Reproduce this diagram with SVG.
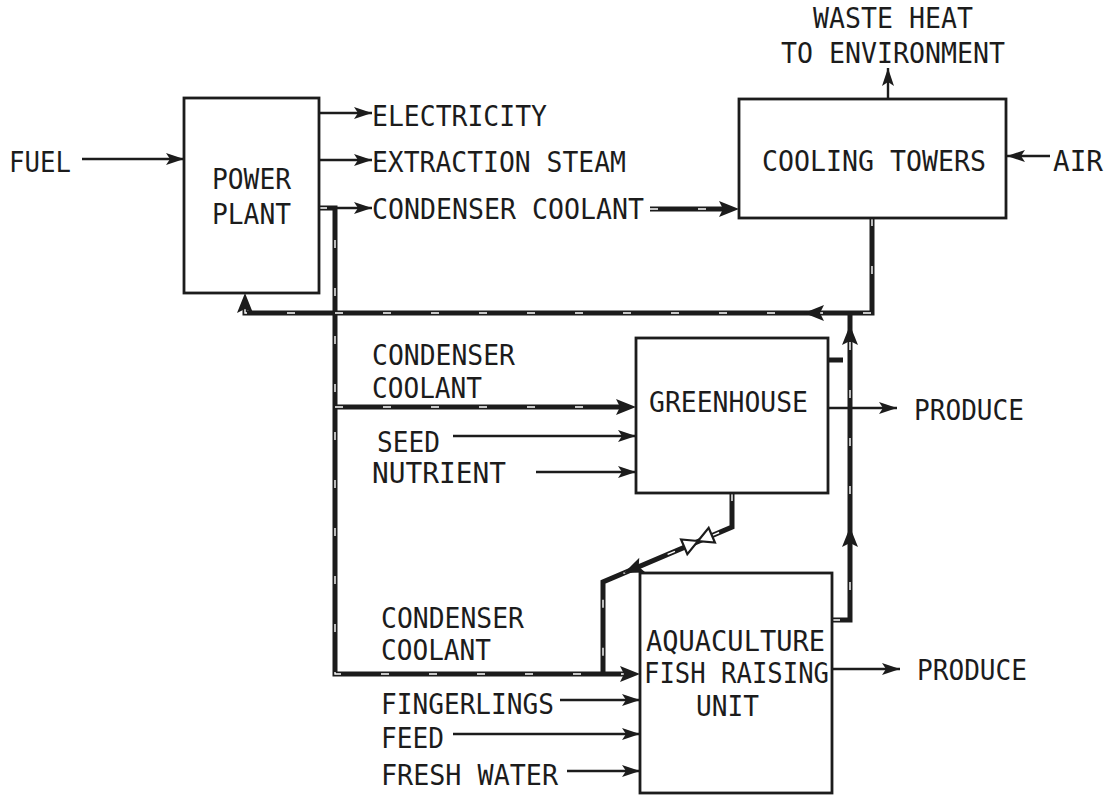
<svg xmlns="http://www.w3.org/2000/svg" width="1116" height="796" viewBox="0 0 1116 796">
<style>
.t{font-family:"DejaVu Sans Mono","Liberation Mono",monospace;font-size:29px;fill:#1c1c1c}
.box{fill:#fff;stroke:#1c1c1c;stroke-width:2.8}
.ln{fill:none;stroke:#1c1c1c;stroke-width:2.4}
.pipe{fill:none;stroke:#1c1c1c;stroke-width:5}
.pin{fill:none;stroke:#fff;stroke-width:1.4;stroke-dasharray:8 40}
.ah{fill:#1c1c1c}
.valve{fill:#fff;stroke:#1c1c1c;stroke-width:2.2}
</style>
<defs>
<marker id="arr" markerUnits="userSpaceOnUse" markerWidth="20" markerHeight="14" refX="18" refY="7" orient="auto">
<path d="M0,1 L18,7 L0,13 L4,7 z" fill="#1c1c1c"/>
</marker>
</defs>
<rect width="1116" height="796" fill="#fff"/>
<g id="connectors">
<path class="ln" d="M82,159 H184" marker-end="url(#arr)"/>
<path class="ln" d="M319,113 H372" marker-end="url(#arr)"/>
<path class="ln" d="M319,160 H372" marker-end="url(#arr)"/>
<path class="ln" d="M335,208 H372" marker-end="url(#arr)"/>
<path class="ln" d="M1050,156 H1007" marker-end="url(#arr)"/>
<path class="ln" d="M888,99 V68" marker-end="url(#arr)"/>
<path class="ln" d="M453,436 H636" marker-end="url(#arr)"/>
<path class="ln" d="M536,472 H636" marker-end="url(#arr)"/>
<path class="ln" d="M828,408 H897" marker-end="url(#arr)"/>
<path class="ln" d="M832,669 H900" marker-end="url(#arr)"/>
<path class="ln" d="M560,700 H640" marker-end="url(#arr)"/>
<path class="ln" d="M453,734 H640" marker-end="url(#arr)"/>
<path class="ln" d="M567,771 H640" marker-end="url(#arr)"/>
<path class="pipe" d="M319,208 H335 V674 H626"/>
<path class="pin" d="M319,208 H335 V674 H626"/>
<path class="pipe" d="M335,407 H624"/>
<path class="pin" d="M335,407 H624"/>
<path class="pipe" d="M650,209 H727"/>
<path class="pin" d="M650,209 H727"/>
<path class="pipe" d="M872,218 V313 H245 V305"/>
<path class="pin" d="M872,218 V313 H245 V305"/>
<path class="pipe" d="M832,620 H850 V313"/>
<path class="pin" d="M832,620 H850 V313"/>
<path class="pipe" d="M732,493 V527 L603,582 V674"/>
<path class="pin" d="M732,493 V527 L603,582 V674"/>
<path class="pipe" d="M828,360 H843"/>
<polygon class="ah" points="640,674 620,666 624,674 620,682"/>
<polygon class="ah" points="636,407 616,399 620,407 616,415"/>
<polygon class="ah" points="739,209 719,201 723,209 719,217"/>
<polygon class="ah" points="245,293 237,313 245,309 253,313"/>
<polygon class="ah" points="804,313 824,305 820,313 824,321"/>
<polygon class="ah" points="850,527 842,547 850,543 858,547"/>
<polygon class="ah" points="850,325 842,345 850,341 858,345"/>
<polygon class="ah" transform="translate(624,573) rotate(156.9)" points="0,0 -20,-8 -16,0 -20,8"/>
<g transform="translate(698,541) rotate(-23.1)">
<polygon class="valve" points="0,0 -15,-8 -15,8"/>
<polygon class="valve" points="0,0 15,-8 15,8"/>
</g>
</g>
<g id="power-plant">
<rect class="box" x="184" y="98" width="135" height="195"/>
<text class="t" x="212" y="189" textLength="79" lengthAdjust="spacingAndGlyphs">POWER</text>
<text class="t" x="212" y="224" textLength="79" lengthAdjust="spacingAndGlyphs">PLANT</text>
</g>
<g id="cooling-towers">
<rect class="box" x="739" y="99" width="267" height="119"/>
<text class="t" x="762" y="171" textLength="224" lengthAdjust="spacingAndGlyphs">COOLING TOWERS</text>
</g>
<g id="greenhouse">
<rect class="box" x="636" y="338" width="192" height="155"/>
<text class="t" x="649" y="412" textLength="159" lengthAdjust="spacingAndGlyphs">GREENHOUSE</text>
</g>
<g id="aquaculture">
<rect class="box" x="640" y="573" width="192" height="220"/>
<text class="t" x="646" y="651" textLength="179" lengthAdjust="spacingAndGlyphs">AQUACULTURE</text>
<text class="t" x="644" y="683" textLength="185" lengthAdjust="spacingAndGlyphs">FISH RAISING</text>
<text class="t" x="696" y="716" textLength="63" lengthAdjust="spacingAndGlyphs">UNIT</text>
</g>
<g id="labels">
<text class="t" x="9" y="172" textLength="62" lengthAdjust="spacingAndGlyphs">FUEL</text>
<text class="t" x="372" y="126" textLength="175" lengthAdjust="spacingAndGlyphs">ELECTRICITY</text>
<text class="t" x="372" y="172" textLength="254" lengthAdjust="spacingAndGlyphs">EXTRACTION STEAM</text>
<text class="t" x="372" y="219" textLength="272" lengthAdjust="spacingAndGlyphs">CONDENSER COOLANT</text>
<text class="t" x="813" y="28" textLength="160" lengthAdjust="spacingAndGlyphs">WASTE HEAT</text>
<text class="t" x="781" y="63" textLength="224" lengthAdjust="spacingAndGlyphs">TO ENVIRONMENT</text>
<text class="t" x="1053" y="171" textLength="50" lengthAdjust="spacingAndGlyphs">AIR</text>
<text class="t" x="372" y="365" textLength="143" lengthAdjust="spacingAndGlyphs">CONDENSER</text>
<text class="t" x="372" y="398" textLength="110" lengthAdjust="spacingAndGlyphs">COOLANT</text>
<text class="t" x="377" y="452" textLength="63" lengthAdjust="spacingAndGlyphs">SEED</text>
<text class="t" x="372" y="483" textLength="134" lengthAdjust="spacingAndGlyphs">NUTRIENT</text>
<text class="t" x="914" y="420" textLength="110" lengthAdjust="spacingAndGlyphs">PRODUCE</text>
<text class="t" x="381" y="628" textLength="143" lengthAdjust="spacingAndGlyphs">CONDENSER</text>
<text class="t" x="381" y="660" textLength="110" lengthAdjust="spacingAndGlyphs">COOLANT</text>
<text class="t" x="917" y="680" textLength="110" lengthAdjust="spacingAndGlyphs">PRODUCE</text>
<text class="t" x="381" y="714" textLength="173" lengthAdjust="spacingAndGlyphs">FINGERLINGS</text>
<text class="t" x="381" y="748" textLength="63" lengthAdjust="spacingAndGlyphs">FEED</text>
<text class="t" x="381" y="785" textLength="177" lengthAdjust="spacingAndGlyphs">FRESH WATER</text>
</g>
</svg>
